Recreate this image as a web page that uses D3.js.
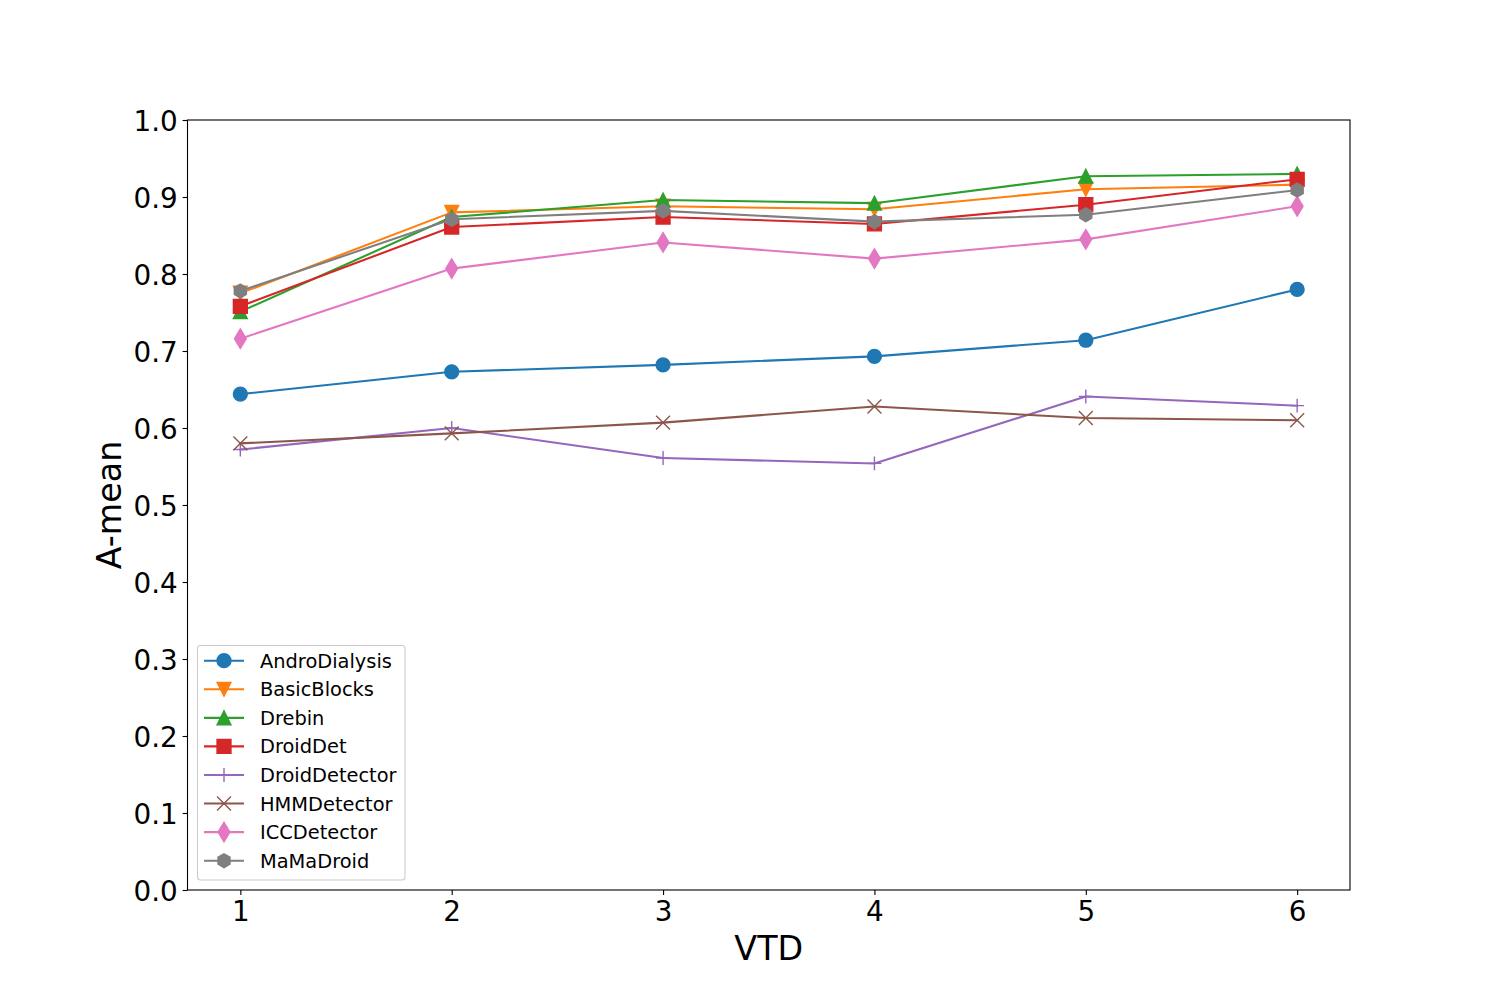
<!DOCTYPE html>
<html>
<head>
<meta charset="utf-8">
<script src="https://cdn.jsdelivr.net/npm/d3@7"></script>
<style>
  body { margin: 0; background: #ffffff; }
  text { font-family: "DejaVu Sans", sans-serif; fill: #000; }
</style>
</head>
<body>
<div id="chart"></div>
<script>
// data
var vtd = [1, 2, 3, 4, 5, 6];
var names = ["AndroDialysis", "BasicBlocks", "Drebin", "DroidDet", "DroidDetector", "HMMDetector", "ICCDetector", "MaMaDroid"];
var androDialysis = [0.644, 0.673, 0.682, 0.693, 0.714, 0.780];
var basicBlocks   = [0.775, 0.880, 0.888, 0.884, 0.910, 0.916];
var drebin        = [0.751, 0.874, 0.896, 0.892, 0.927, 0.930];
var droidDet      = [0.758, 0.861, 0.874, 0.865, 0.890, 0.923];
var droidDetector = [0.572, 0.600, 0.561, 0.554, 0.641, 0.629];
var hmmDetector   = [0.580, 0.593, 0.607, 0.628, 0.613, 0.610];
var iccDetector   = [0.716, 0.807, 0.841, 0.820, 0.845, 0.888];
var maMaDroid     = [0.778, 0.871, 0.882, 0.868, 0.877, 0.909];
var yTicks = [0.0, 0.1, 0.2, 0.3, 0.4, 0.5, 0.6, 0.7, 0.8, 0.9, 1.0];

var allValues = [androDialysis, basicBlocks, drebin, droidDet, droidDetector, hmmDetector, iccDetector, maMaDroid];
var colors = ["#1f77b4", "#ff7f0e", "#2ca02c", "#d62728", "#9467bd", "#8c564b", "#e377c2", "#7f7f7f"];
var markers = ["o", "v", "^", "s", "+", "x", "d", "h"];

var W = 1500, H = 1000;
var margin = {left: 187.5, right: 150, top: 120, bottom: 110};
var pw = W - margin.left - margin.right;
var ph = H - margin.top - margin.bottom;
var ms = 13.9; // markersize 10pt

var x = d3.scaleLinear().domain([0.75, 6.25]).range([0, pw]);
var y = d3.scaleLinear().domain([0, 1]).range([ph, 0]);

var svg = d3.select("#chart").append("svg")
    .attr("width", W).attr("height", H);
var g = svg.append("g")
    .attr("transform", "translate(" + margin.left + "," + margin.top + ")");

// marker path in px, centered on 0,0
function markerPath(m) {
  var h = ms / 2;
  if (m == "o") return d3.symbol(d3.symbolCircle, Math.PI * h * h)();
  if (m == "v") return "M0," + h + "L" + (-h) + "," + (-h) + "L" + h + "," + (-h) + "Z";
  if (m == "^") return "M0," + (-h) + "L" + (-h) + "," + h + "L" + h + "," + h + "Z";
  if (m == "s") return "M" + (-h) + "," + (-h) + "H" + h + "V" + h + "H" + (-h) + "Z";
  if (m == "+") return "M" + (-h) + ",0H" + h + "M0," + (-h) + "V" + h;
  if (m == "x") return "M" + (-h) + "," + (-h) + "L" + h + "," + h + "M" + (-h) + "," + h + "L" + h + "," + (-h);
  if (m == "d") {
    var dy = ms * 0.7071, dx = dy * 0.6;
    return "M0," + (-dy) + "L" + dx + ",0L0," + dy + "L" + (-dx) + ",0Z";
  }
  if (m == "h") {
    var pts = d3.range(6).map(function(i) {
      var a = -Math.PI / 2 + i * Math.PI / 3;
      return [h * Math.cos(a), h * Math.sin(a)];
    });
    return "M" + pts.map(function(p) { return p.join(","); }).join("L") + "Z";
  }
}
function isFilled(m) { return m != "+" && m != "x"; }

// axes
var xAxis = d3.axisBottom(x).tickValues(vtd).tickFormat(d3.format("d")).tickSize(4.9).tickPadding(6.5);
var yAxis = d3.axisLeft(y).tickValues(yTicks).tickFormat(d3.format(".1f")).tickSize(4.9).tickPadding(4.9);

var gx = g.append("g").attr("transform", "translate(0," + ph + ")").call(xAxis);
var gy = g.append("g").call(yAxis);
[gx, gy].forEach(function(a) {
  a.select(".domain").remove();
  a.selectAll("line").attr("stroke", "#000").attr("stroke-width", 1.1);
  a.selectAll("text").attr("font-size", 27.8).attr("font-family", "DejaVu Sans").attr("fill", "#000");
});
gy.selectAll("text").attr("dy", "0.38em");

// series
var line = d3.line().x(function(d, i) { return x(vtd[i]); }).y(function(d) { return y(d); });
allValues.forEach(function(vals, k) {
  var s = g.append("g");
  s.append("path").datum(vals).attr("d", line)
      .attr("fill", "none").attr("stroke", colors[k]).attr("stroke-width", 2.08)
      .attr("stroke-linejoin", "round").attr("stroke-linecap", "square");
  s.selectAll("path.mk").data(vals).enter().append("path")
      .attr("class", "mk")
      .attr("d", markerPath(markers[k]))
      .attr("transform", function(d, i) { return "translate(" + x(vtd[i]) + "," + y(d) + ")"; })
      .attr("fill", isFilled(markers[k]) ? colors[k] : "none")
      .attr("stroke", colors[k]).attr("stroke-width", 1.39);
});

// frame
g.append("rect").attr("x", 0).attr("y", 0).attr("width", pw).attr("height", ph)
    .attr("fill", "none").attr("stroke", "#000").attr("stroke-width", 1.1);

// axis labels
svg.append("text").attr("x", margin.left + pw / 2).attr("y", 960)
    .attr("text-anchor", "middle").attr("font-size", 33.3).text("VTD");
svg.append("text").attr("transform", "translate(121," + (margin.top + ph / 2) + ") rotate(-90)")
    .attr("text-anchor", "middle").attr("font-size", 33.3).text("A-mean");

// legend
var leg = svg.append("g");
leg.append("rect").attr("x", 197.5).attr("y", 645.5).attr("width", 207.5).attr("height", 234.5)
    .attr("rx", 3).attr("fill", "#fff").attr("fill-opacity", 0.8)
    .attr("stroke", "#cccccc").attr("stroke-width", 1.1);
names.forEach(function(n, k) {
  var cy = 660.7 + k * 28.57;
  var e = leg.append("g");
  e.append("line").attr("x1", 204).attr("x2", 244).attr("y1", cy).attr("y2", cy)
      .attr("stroke", colors[k]).attr("stroke-width", 2.08);
  e.append("path").attr("d", markerPath(markers[k]))
      .attr("transform", "translate(224," + cy + ")")
      .attr("fill", isFilled(markers[k]) ? colors[k] : "none")
      .attr("stroke", colors[k]).attr("stroke-width", 1.39);
  e.append("text").attr("x", 260).attr("y", cy + 7).attr("font-size", 19.4).text(n);
});
</script>
</body>
</html>
